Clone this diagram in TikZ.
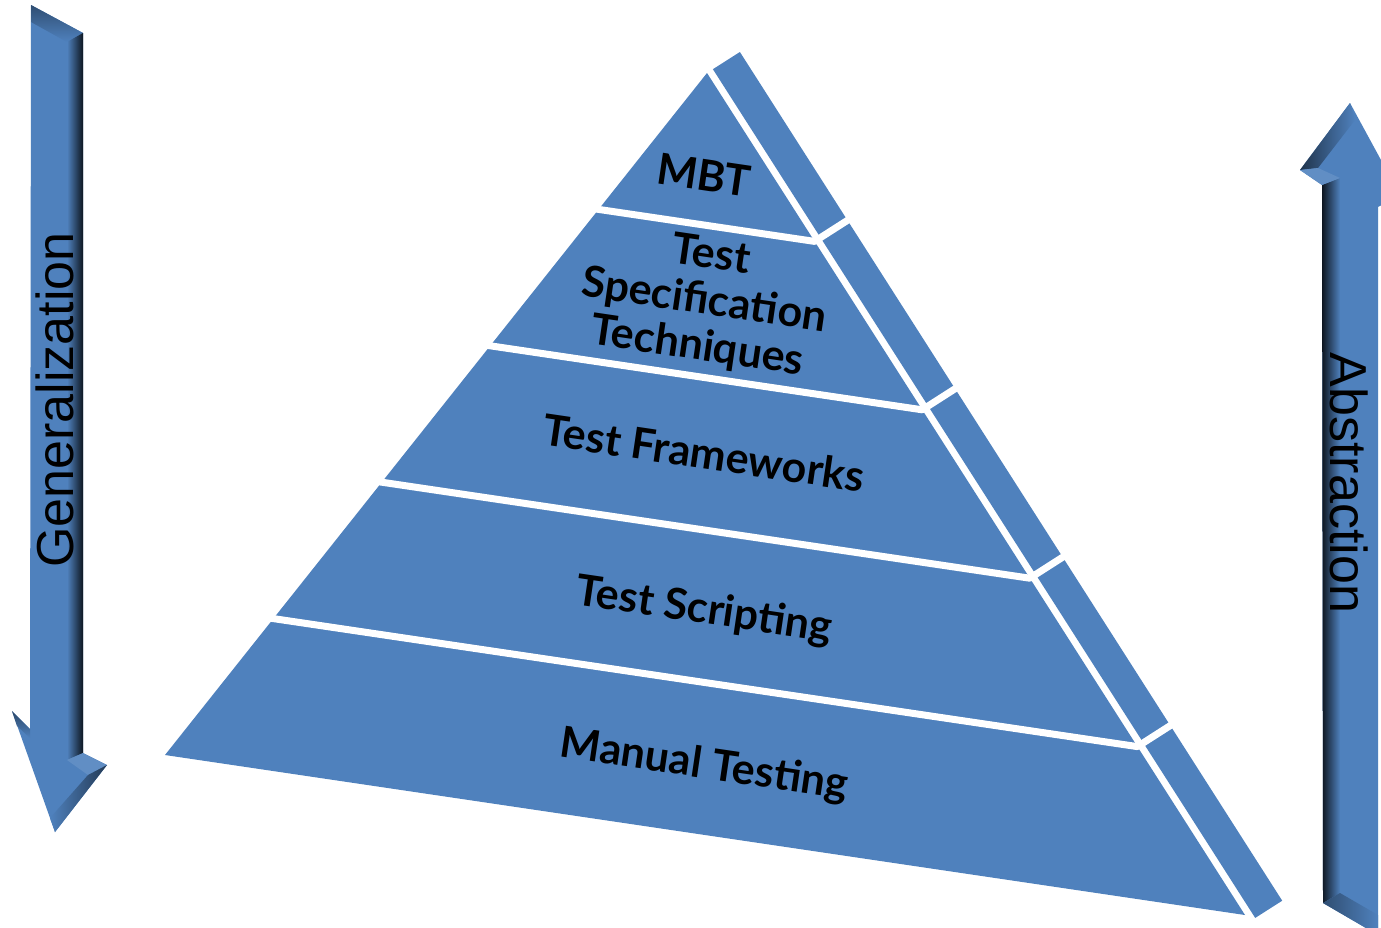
\documentclass[tikz,border=0pt]{standalone}
\usepackage{fontspec}
\newfontfamily\arialf{Liberation Sans}
\newfontfamily\pyrfont{Lato}
\usetikzlibrary{calc}
\definecolor{pblue}{HTML}{4F81BD}
\definecolor{ablue}{HTML}{4F81BD}
\definecolor{adark}{HTML}{0E1620}
\tikzset{
  lab/.style={inner sep=0pt, text=black, rotate=-8.4, align=center,
    font=\pyrfont\bfseries\fontsize{43}{46}\selectfont},
  sidelab/.style={inner sep=0pt, text=black, anchor=base,
    font=\arialf\fontsize{52}{52}\selectfont},
  divider/.style={white, line width=7pt, line join=round},
}
\begin{document}
\begin{tikzpicture}[x=1pt, y=-1pt]
\useasboundingbox (0,0) rectangle (1381,927);
\clip (0,0) rectangle (1381,927);
\fill[white] (0,0) rectangle (1381,927);

% ---------- pyramid ----------
\coordinate (A) at (707,73);
\coordinate (L) at (165,755);
\coordinate (R) at (1245,915);
\fill[pblue] (A) -- (L) -- (R) -- cycle;
\fill[pblue] (712.9,69.2) -- (739.9,52.0) -- (1282.2,900.7) -- (1255.2,917.9) -- cycle;
\foreach \t [count=\i] in {0.2,0.4,0.6,0.8}{
  \coordinate (l\i) at ($(A)!\t!(L)$);
  \coordinate (r\i) at ($(A)!\t!(R)$);
  \draw[divider] ($(l\i)!-0.05!(r\i)$) -- (r\i) -- ++(40,-25.6);
}

\node[lab] (mbt) at (704,175) {MBT};
\node[lab] (tst) at (704,302) {Test\\Specification\\Techniques};
\node[lab] (tf) at (704,453) {Test Frameworks};
\node[lab] (ts) at (704,611) {Test Scripting};
\node[lab] (mt) at (704,766) {Manual Testing};

% ---------- left arrow (down) ----------
\fill[ablue] (31,5) -- (83,33) -- (83,753) -- (107,765) -- (55,832) -- (12,711) -- (30,729) -- cycle;
\shade[top color=ablue!60!black, bottom color=ablue] (31,5) -- (83,33) -- (67,42) -- (31,22) -- cycle;
\shade[left color=ablue, right color=adark] (67,42) -- (83,33) -- (83,753) -- (67,760) -- cycle;
\fill[ablue!90!white] (67,760) -- (83,753) -- (107,765) -- (88,775) -- cycle;
\shade[left color=ablue, right color=ablue!45!black] (88,775) -- (107,765) -- (55,832) -- (50,818) -- cycle;
\shade[top color=ablue!55!black, bottom color=ablue] (12,711) -- (30,729) -- (30,738) -- (17,726) -- cycle;
\node[sidelab, rotate=90] (gen) at (73,400) {Generalization};

% ---------- right arrow (up) ----------
\fill[ablue] (1350,103) -- (1400,195) -- (1378,207) -- (1378,935) -- (1323,903) -- (1322,185) -- (1300,170) -- cycle;
\shade[left color=adark, right color=ablue] (1322,185) -- (1340,178) -- (1340,893) -- (1323,903) -- cycle;
\shade[left color=ablue!40!black, right color=ablue] (1300,170) -- (1350,103) -- (1355,120) -- (1318,168) -- cycle;
\fill[ablue!90!white] (1300,170) -- (1318,168) -- (1340,178) -- (1322,185) -- cycle;
\shade[left color=ablue!60!black, right color=ablue] (1323,903) -- (1340,893) -- (1378,915) -- (1378,935) -- cycle;
\node[sidelab, rotate=-90] (abs) at (1330,483) {Abstraction};
\end{tikzpicture}
\end{document}
